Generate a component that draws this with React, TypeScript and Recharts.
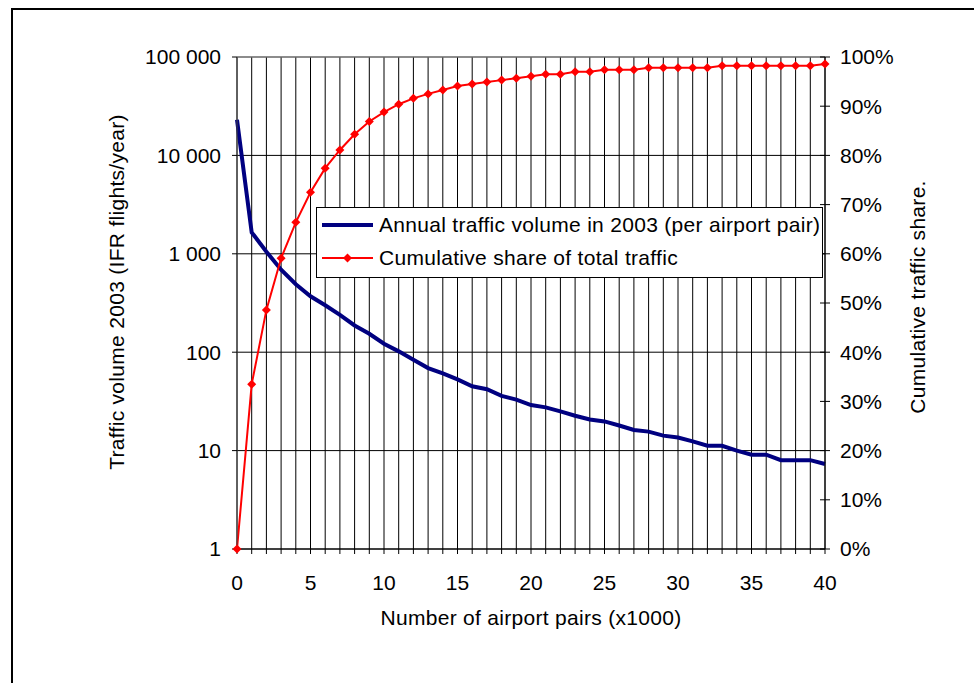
import React from "react";
import {
  LineChart,
  Line,
  XAxis,
  YAxis,
  CartesianGrid,
  Legend,
  ReferenceLine,
  Label,
} from "recharts";

// x1000 airport pairs
const pairs = Array.from({ length: 41 }, (_, i) => i);

// annual traffic volume per airport pair (IFR flights / year)
const volume = [
  23000, 1650, 1050, 690, 490, 370, 300, 240, 187, 154, 122, 102, 84, 69, 61,
  53, 45, 42, 36, 33, 29, 27.5, 25, 22.6, 20.7, 19.8, 18, 16.2, 15.6, 14.2,
  13.6, 12.4, 11.2, 11.2, 10, 9.1, 9.1, 8, 8, 8, 7.3,
];

// cumulative share of total traffic
const share = [
  0, 0.335, 0.486, 0.591, 0.664, 0.725, 0.774, 0.811, 0.843, 0.869, 0.888,
  0.904, 0.916, 0.925, 0.933, 0.941, 0.945, 0.949, 0.953, 0.957, 0.961, 0.965,
  0.965, 0.97, 0.97, 0.974, 0.974, 0.974, 0.978, 0.978, 0.978, 0.978, 0.978,
  0.982, 0.982, 0.982, 0.982, 0.982, 0.982, 0.982, 0.986,
];

const xTicks = pairs;
const leftTicks = [1, 10, 100, 1000, 10000, 100000];
const rightTicks = [0, 0.1, 0.2, 0.3, 0.4, 0.5, 0.6, 0.7, 0.8, 0.9, 1];

const data = pairs.map((x, i) => ({ x, volume: volume[i], share: share[i] }));

const FONT = "'Liberation Sans', Arial, sans-serif";
const NAVY = "#000080";
const RED = "#ff0000";

const fmtThousands = (v: number) =>
  String(v).replace(/\B(?=(\d{3})+(?!\d))/g, " ");

const Diamond = (props: any) => {
  const { cx, cy, index } = props;
  if (cx == null || cy == null) return <g key={`d-${index}`} />;
  const r = 4.5;
  return (
    <path
      key={`d-${index}`}
      d={`M${cx},${cy - r}L${cx + r},${cy}L${cx},${cy + r}L${cx - r},${cy}Z`}
      fill={RED}
    />
  );
};

const RightTick = (props: any) => {
  const { x, y, payload } = props;
  return (
    <g>
      <line x1={x - 20} x2={x - 10} y1={y} y2={y} stroke="#000" />
      <text x={x} y={y} dy="0.355em" fontSize={21} fill="#000" textAnchor="start">
        {Math.round(payload.value * 100)}%
      </text>
    </g>
  );
};

const LegendBox = () => (
  <div
    style={{
      width: 507,
      height: 71,
      boxSizing: "border-box",
      border: "1px solid #000",
      background: "#fff",
      fontFamily: FONT,
      fontSize: 21,
      letterSpacing: 0.3,
      color: "#000",
    }}
  >
    <div style={{ display: "flex", alignItems: "center", height: 33 }}>
      <svg width={51} height={10} style={{ marginLeft: 5, marginRight: 6 }}>
        <line x1={0} x2={51} y1={5} y2={5} stroke={NAVY} strokeWidth={4} />
      </svg>
      <span style={{ whiteSpace: "nowrap" }}>
        Annual traffic volume in 2003 (per airport pair)
      </span>
    </div>
    <div style={{ display: "flex", alignItems: "center", height: 33 }}>
      <svg width={51} height={12} style={{ marginLeft: 5, marginRight: 6 }}>
        <line x1={0} x2={51} y1={6} y2={6} stroke={RED} strokeWidth={2} />
        <path d="M25.5,1.5L30,6L25.5,10.5L21,6Z" fill={RED} />
      </svg>
      <span style={{ whiteSpace: "nowrap" }}>Cumulative share of total traffic</span>
    </div>
  </div>
);

export default function App() {
  return (
    <div
      style={{
        position: "absolute",
        left: 0,
        top: 0,
        width: 974,
        height: 683,
        background: "#fff",
        fontFamily: FONT,
      }}
    >
      <div
        style={{
          position: "absolute",
          left: 11,
          top: 8,
          right: 0,
          bottom: 0,
          borderTop: "2px solid #000",
          borderLeft: "2px solid #000",
        }}
      />
      <LineChart
        width={974}
        height={683}
        data={data}
        margin={{ top: 57, right: 49, bottom: 54, left: 117 }}
      >
        <CartesianGrid
          yAxisId="left"
          vertical={false}
          stroke="#000"
          strokeWidth={1}
        />
        <CartesianGrid
          yAxisId="left"
          horizontal={false}
          stroke="#000"
          strokeWidth={1}
        />
        <XAxis
          dataKey="x"
          type="number"
          domain={[0, 40]}
          ticks={xTicks}
          interval={0}
          tickFormatter={(v: number) => (v % 5 === 0 ? String(v) : "")}
          tick={{ fill: "#000", fontSize: 21 }}
          tickSize={5}
          tickMargin={21}
          axisLine={{ stroke: "#000" }}
          tickLine={{ stroke: "#000" }}
          height={80}
        >
          <Label
            value="Number of airport pairs (x1000)"
            position="insideBottom"
            offset={4}
            fill="#000"
            fontSize={21}
            style={{ letterSpacing: 0.3 }}
          />
        </XAxis>
        <YAxis
          yAxisId="left"
          orientation="left"
          scale="log"
          domain={[1, 100000]}
          ticks={leftTicks}
          interval={0}
          allowDataOverflow
          tickFormatter={fmtThousands}
          tick={{ fill: "#000", fontSize: 21 }}
          tickSize={5}
          tickMargin={11}
          axisLine={{ stroke: "#404040" }}
          tickLine={{ stroke: "#000" }}
          width={120}
        >
          <Label
            value="Traffic volume 2003 (IFR flights/year)"
            angle={-90}
            position="center"
            dx={-60}
            dy={-11}
            fill="#000"
            fontSize={21}
            style={{ letterSpacing: 0.3 }}
          />
        </YAxis>
        <YAxis
          yAxisId="right"
          orientation="right"
          domain={[0, 1]}
          ticks={rightTicks}
          interval={0}
          tick={<RightTick />}
          tickSize={5}
          tickMargin={10}
          tickLine={false}
          axisLine={{ stroke: "#000" }}
          width={100}
        >
          <Label
            value="Cumulative traffic share."
            angle={-90}
            position="center"
            dx={43}
            dy={-6}
            fill="#000"
            fontSize={21}
            style={{ letterSpacing: 0.3 }}
          />
        </YAxis>
        <ReferenceLine yAxisId="left" y={100000} stroke="#999" />
        <Legend
          layout="vertical"
          align="center"
          verticalAlign="middle"
          content={<LegendBox />}
          wrapperStyle={{ left: 316, top: 207, width: 507, height: 71 }}
        />
        <Line
          yAxisId="left"
          dataKey="volume"
          type="linear"
          stroke={NAVY}
          strokeWidth={4}
          dot={false}
          activeDot={false}
          isAnimationActive={false}
        />
        <Line
          yAxisId="right"
          dataKey="share"
          type="linear"
          stroke={RED}
          strokeWidth={2}
          dot={Diamond}
          activeDot={false}
          isAnimationActive={false}
        />
      </LineChart>
    </div>
  );
}
